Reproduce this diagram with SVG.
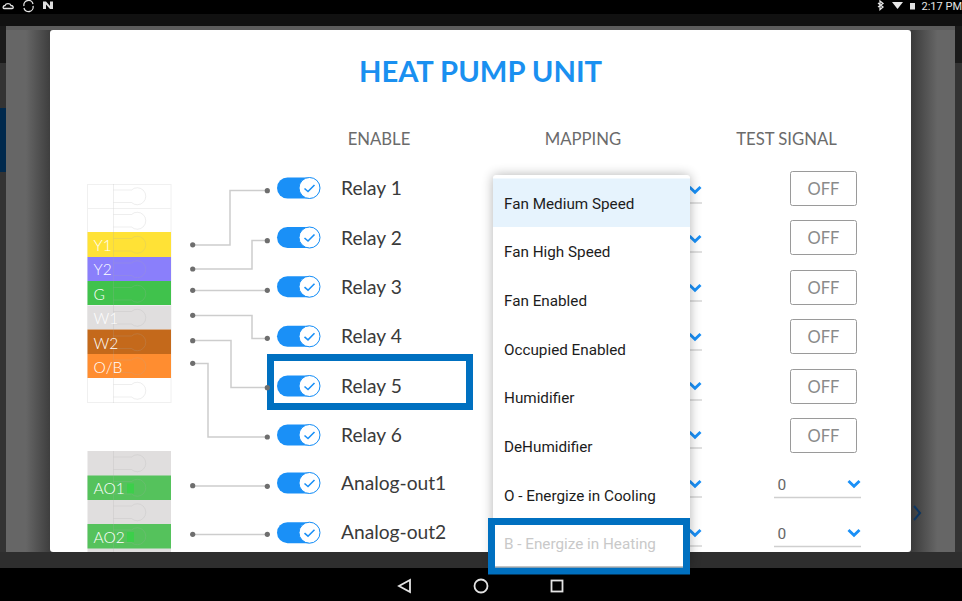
<svg xmlns="http://www.w3.org/2000/svg" width="962" height="601" viewBox="0 0 962 601">
<style>
text{font-family:"Lato","Liberation Sans",sans-serif}
.head{font-size:16.700px;fill:#6b6b6b;text-anchor:middle}
.rl{font-size:19.200px;fill:#3a3a3a}
.t{font-size:15.500px;font-weight:300;fill:#fff}
.m{font-family:"Roboto","Liberation Sans",sans-serif;font-size:15.250px;fill:#1c1c1c}
.off{font-size:16.500px;fill:#8a8a8a;text-anchor:middle}
.btn{fill:#fff;stroke:#9a9a9a;stroke-width:1}
.c{fill:none;stroke:#cdcdcd;stroke-width:1.500}
.d{fill:#6e6e6e}
.sw{fill:#1a90f7}
.kn{fill:#fff;stroke:#1a90f7;stroke-width:1}
.ck{fill:none;stroke:#1a90f7;stroke-width:1.600}
.chev{fill:none;stroke:#1a90f7;stroke-width:2.900}
.ul{stroke:#cfcfcf;stroke-width:1.300}
.hl{fill:#fff;stroke:#0070c0;stroke-width:7}
.k{fill:none;stroke:#a8a8a8;stroke-opacity:.2;stroke-width:1}
.ic{fill:none;stroke:#e4e4e4;stroke-width:1.300}
.v{font-family:"Roboto","Liberation Sans",sans-serif;font-size:15.500px;fill:#666}
</style>
<defs>
<linearGradient id="gl" x1="0" x2="1" y1="0" y2="0"><stop offset="0" stop-color="#666"/><stop offset=".45" stop-color="#666"/><stop offset="1" stop-color="#3e3e3e"/></linearGradient>
<linearGradient id="gr" x1="0" x2="1" y1="0" y2="0"><stop offset="0" stop-color="#3a3a3a"/><stop offset=".6" stop-color="#666"/><stop offset="1" stop-color="#666"/></linearGradient>
<filter id="sh" x="-20%" y="-10%" width="140%" height="120%"><feGaussianBlur stdDeviation="6"/></filter>
<g id="key"><path class="k" d="M113.500 0V24.400M113.500 6H131.500M113.500 18.500H131.500"/><path class="k" d="M131.500 6A8.500 8.500 0 1 1 131.500 18.500"/></g>
<g id="tg"><rect class="sw" x="277" y="-10.500" width="43" height="21" rx="10.500"/><circle class="kn" cx="309.500" cy="0" r="10.500"/><path class="ck" d="M304.500 0.500L308 3.500L314.500 -3"/></g>
<path id="ch" class="chev" d="M-5.500 -3L0 2.200L5.500 -3"/>
</defs>
<rect width="962" height="601" fill="#000"/>
<rect y="14" width="962" height="12" fill="#111"/>
<rect y="26" width="962" height="37" fill="#1a1a1a"/>
<rect y="63" width="962" height="505" fill="#333"/>
<rect y="108" width="6" height="64" fill="#00294d"/>
<rect x="6" y="26" width="949" height="542" fill="#3d3d3d"/>
<rect x="6" y="26" width="44" height="526" fill="url(#gl)"/>
<rect x="911" y="26" width="44" height="526" fill="url(#gr)"/>
<rect x="6" y="26" width="949" height="4" fill="#5c5c5c"/>
<rect y="552" width="962" height="16" fill="#2e2e2e"/>
<rect y="568" width="962" height="33" fill="#000"/>
<path d="M914 506L920 513L914 520" fill="none" stroke="#0c3560" stroke-width="2"/>

<g id="status">
<path class="ic" d="M4 8.500C2.500 8.500 3 5.500 5 5.500C6 3 10 3 11 5.500C13.500 5.500 14 8.500 12 8.500Z"/>
<path class="ic" d="M24 6A4.500 4.500 0 0 1 33 4M33 6A4.500 4.500 0 0 1 24 8"/>
<path d="M43 1.500H46L50 6V1.500H53V9H50L46 4.500V9H43Z" fill="#ddd"/>
<path class="ic" d="M878 3L883 7L880 9.500V1L883 3.500L878 7"/>
<path d="M892 2H903L897.500 9Z" fill="#e8e8e8"/>
<path d="M910 3H915V9.500H910Z" fill="#e0e0e0"/>
<text x="921.500" y="9.500" font-size="11" fill="#e4e4e4" style="font-family:'Roboto','Liberation Sans',sans-serif">2:17 PM</text>
</g>

<g id="modal">
<rect x="50" y="30" width="861" height="522" rx="3" fill="#fff"/>
<text x="480.500" y="82" text-anchor="middle" font-size="29.200" font-weight="700" fill="#1a90f0">HEAT PUMP UNIT</text>
<text class="head" x="379" y="144.500">ENABLE</text>
<text class="head" x="583" y="144.500">MAPPING</text>
<text class="head" x="786.500" y="144.500">TEST SIGNAL</text>
</g>

<g id="terminal-block-relay">
<rect x="87.500" y="184.500" width="83.500" height="218" fill="#fff" stroke="#f0f0f0"/>
<path d="M87.500 208.500H171" stroke="#f0f0f0"/>
<rect x="87.500" y="232" width="83.500" height="25" fill="#ffe236"/>
<rect x="87.500" y="257" width="83.500" height="24" fill="#8a7ffb"/>
<rect x="87.500" y="281" width="83.500" height="24" fill="#40c24c"/>
<rect x="87.500" y="305.500" width="83.500" height="24" fill="#e0dede"/>
<rect x="87.500" y="329.500" width="83.500" height="24.500" fill="#c4691b"/>
<rect x="87.500" y="354" width="83.500" height="24" fill="#ff8d30"/>
<use href="#key" y="184"/><use href="#key" y="208.500"/><use href="#key" y="232.500"/><use href="#key" y="257"/><use href="#key" y="281.500"/><use href="#key" y="305.500"/><use href="#key" y="330"/><use href="#key" y="354"/><use href="#key" y="378.500"/>
<text class="t" x="93.500" y="251">Y1</text>
<text class="t" x="93.500" y="275">Y2</text>
<text class="t" x="93.500" y="300">G</text>
<text class="t" x="93.500" y="324">W1</text>
<text class="t" x="93.500" y="348.500">W2</text>
<text class="t" x="93.500" y="372.500">O/B</text>
</g>

<g id="terminal-block-analog">
<rect x="87.500" y="451" width="83.500" height="101" fill="#e0dede"/>
<rect x="87.500" y="475.500" width="83.500" height="24.500" fill="#55c25c"/>
<rect x="87.500" y="524" width="83.500" height="24.500" fill="#55c25c"/>
<rect x="127" y="483.500" width="7" height="10" fill="#3ccf4a"/>
<rect x="127" y="532" width="7" height="10" fill="#3ccf4a"/>
<use href="#key" y="451"/><use href="#key" y="475.500"/><use href="#key" y="500"/><use href="#key" y="524"/>
<path class="k" d="M113.500 548V552"/>
<text class="t" x="93.500" y="494">AO1</text>
<text class="t" x="93.500" y="542.500">AO2</text>
</g>

<g id="highlight-relay5"><rect class="hl" x="270.500" y="357.500" width="199" height="49"/></g>

<g id="connectors">
<path class="c" d="M193 245H230V190.500H267"/>
<path class="c" d="M193 269H252V240.500H267"/>
<path class="c" d="M193 290.500H267"/>
<path class="c" d="M193 315.500H252V338.500H267"/>
<path class="c" d="M193 340.500H231V387.500H267" stroke="#b5b5b5"/>
<path class="c" d="M193 363.500H208V437H267"/>
<path class="c" d="M193 486H267"/>
<path class="c" d="M193 534.500H267"/>
<g class="d">
<circle cx="192.700" cy="244.800" r="2.600"/><circle cx="192.700" cy="269" r="2.600"/><circle cx="192.700" cy="290.300" r="2.600"/><circle cx="192.700" cy="315.300" r="2.600"/><circle cx="192.700" cy="340.700" r="2.600"/><circle cx="192.700" cy="363.300" r="2.600"/><circle cx="192.700" cy="485.700" r="2.600"/><circle cx="192.700" cy="534.300" r="2.600"/>
<circle cx="267.300" cy="190.700" r="2.600"/><circle cx="267.300" cy="240.700" r="2.600"/><circle cx="267.300" cy="290.300" r="2.600"/><circle cx="267.300" cy="338.300" r="2.600"/><circle cx="267.300" cy="387.700" r="2.600"/><circle cx="267.300" cy="437" r="2.600"/><circle cx="267.300" cy="486.300" r="2.600"/><circle cx="267.300" cy="534.300" r="2.600"/>
</g>
</g>

<g id="relay-1"><use href="#tg" y="188"/><text class="rl" x="341" y="195">Relay 1</text></g>
<g id="relay-2"><use href="#tg" y="237.500"/><text class="rl" x="341" y="244.500">Relay 2</text></g>
<g id="relay-3"><use href="#tg" y="286.700"/><text class="rl" x="341" y="293.500">Relay 3</text></g>
<g id="relay-4"><use href="#tg" y="336.300"/><text class="rl" x="341" y="343">Relay 4</text></g>
<g id="relay-5"><use href="#tg" y="386"/><text class="rl" x="341" y="392.500">Relay 5</text></g>
<g id="relay-6"><use href="#tg" y="435"/><text class="rl" x="341" y="441.500">Relay 6</text></g>
<g id="analog-out-1"><use href="#tg" y="483"/><text class="rl" x="341" y="490">Analog-out1</text></g>
<g id="analog-out-2"><use href="#tg" y="532.700"/><text class="rl" x="341" y="539">Analog-out2</text></g>

<g id="mapping-selects">
<use href="#ch" x="695" y="190"/><path class="ul" d="M690 203H702"/>
<use href="#ch" x="695" y="239"/><path class="ul" d="M690 252H702"/>
<use href="#ch" x="695" y="288"/><path class="ul" d="M690 301H702"/>
<use href="#ch" x="695" y="337"/><path class="ul" d="M690 350H702"/>
<use href="#ch" x="695" y="386"/><path class="ul" d="M690 400H702"/>
<use href="#ch" x="695" y="435"/><path class="ul" d="M690 448H702"/>
<use href="#ch" x="695" y="484"/><path class="ul" d="M690 497H702"/>
<use href="#ch" x="695" y="533"/><path class="ul" d="M690 546H702"/>
</g>

<g id="test-signals">
<rect class="btn" x="790.500" y="171.500" width="66" height="34" rx="2"/><text class="off" x="823.500" y="194.500">OFF</text>
<rect class="btn" x="790.500" y="220.500" width="66" height="34" rx="2"/><text class="off" x="823.500" y="243.500">OFF</text>
<rect class="btn" x="790.500" y="270.500" width="66" height="34" rx="2"/><text class="off" x="823.500" y="293.500">OFF</text>
<rect class="btn" x="790.500" y="319.500" width="66" height="34" rx="2"/><text class="off" x="823.500" y="342.500">OFF</text>
<rect class="btn" x="790.500" y="369.500" width="66" height="34" rx="2"/><text class="off" x="823.500" y="392.500">OFF</text>
<rect class="btn" x="790.500" y="418.500" width="66" height="34" rx="2"/><text class="off" x="823.500" y="441.500">OFF</text>
<text class="v" x="777.500" y="489.500">0</text><use href="#ch" x="854" y="484"/><path class="ul" d="M774 497.500H861"/>
<text class="v" x="777.500" y="538.500">0</text><use href="#ch" x="854" y="533"/><path class="ul" d="M774 546.500H861"/>
</g>

<g id="dropdown">
<rect x="493" y="175" width="197" height="392" rx="3" fill="#000" opacity=".3" filter="url(#sh)"/>
<rect x="493" y="175" width="197" height="392" rx="3" fill="#fff"/>
<rect x="493" y="178.500" width="197" height="48.500" fill="#e6f3fd"/>
<text class="m" x="504" y="208.500">Fan Medium Speed</text>
<text class="m" x="504" y="257">Fan High Speed</text>
<text class="m" x="504" y="305.500">Fan Enabled</text>
<text class="m" x="504" y="354.500">Occupied Enabled</text>
<text class="m" x="504" y="403">Humidifier</text>
<text class="m" x="504" y="451.500">DeHumidifier</text>
<text class="m" x="504" y="500.500">O - Energize in Cooling</text>
<rect class="hl" x="491.500" y="521.500" width="195" height="49.500"/>
<path d="M495 567H683" stroke="#888"/>
<text class="m" x="504" y="549" style="fill:#c9c9c9">B - Energize in Heating</text>
</g>

<g id="nav">
<path class="ic" d="M410 580V592L399 586Z" style="stroke-width:1.800"/>
<circle class="ic" cx="481" cy="586" r="6.500" style="stroke-width:1.800"/>
<rect class="ic" x="551.500" y="580.500" width="11" height="11" style="stroke-width:1.800"/>
</g>
</svg>
